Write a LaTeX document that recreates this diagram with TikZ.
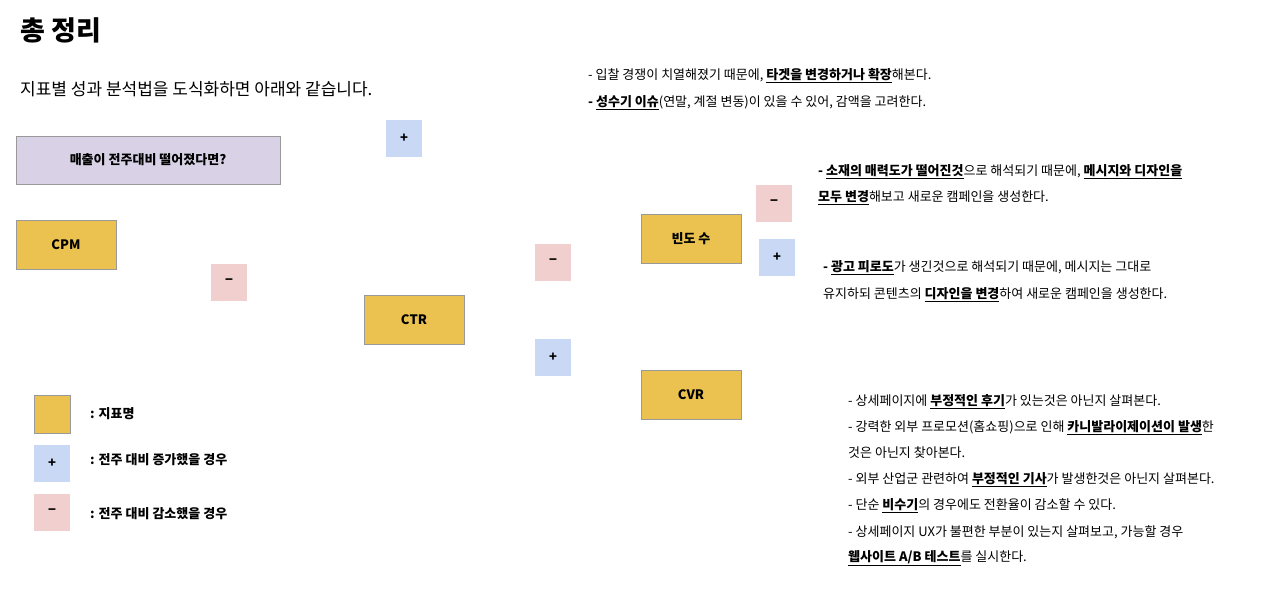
\documentclass[tikz,border=0pt]{standalone}
\usepackage{fontspec}
\setmainfont{Noto Sans CJK KR}
\usetikzlibrary{backgrounds}
\newcommand{\ulb}[1]{\underline{\textbf{#1}}}
\definecolor{kpi}{HTML}{EBC24F}
\definecolor{incr}{HTML}{C9D8F5}
\definecolor{decr}{HTML}{F2CFCF}
\definecolor{q}{HTML}{D9D2E6}
\definecolor{ln}{HTML}{C00000}
\begin{document}
\begin{tikzpicture}[x=1pt,y=-1pt,
 box/.style={draw=black!40,line width=0.8pt,minimum width=100pt,minimum height=49pt,font=\bfseries\fontsize{13}{13}\selectfont,inner sep=0pt},
 kpi/.style={box,fill=kpi},
 sq/.style={fill=#1,minimum width=36pt,minimum height=37pt,inner sep=0pt,font=\bfseries\fontsize{13}{13}\selectfont},
 con/.style={draw=ln,line width=0.9pt},
 txt/.style={anchor=west,font=\fontsize{13}{13}\selectfont,inner sep=0pt}]
\useasboundingbox (0,0) rectangle (1280,598);
\fill[white] (0,0) rectangle (1280,598);
\node[anchor=west,inner sep=0pt,font=\bfseries\fontsize{27}{27}\selectfont] (title) at (20,30) {총 정리};
\node[anchor=west,inner sep=0pt,font=\fontsize{17}{17}\selectfont] (sub) at (20,89) {지표별 성과 분석법을 도식화하면 아래와 같습니다.};
\node[box,fill=q,minimum width=264pt,minimum height=48pt] (q) at (148,160) {매출이 전주대비 떨어졌다면?};
\node[kpi] (cpm) at (66,245) {CPM};
\node[kpi] (ctr) at (414,320) {CTR};
\node[kpi] (freq) at (691,239) {빈도 수};
\node[kpi] (cvr) at (691,395) {CVR};
\node[sq=incr] (p1) at (404,138) {+};
\node[sq=decr] (m1) at (229,282) {\textbf{−}};
\node[sq=decr] (m2) at (553,262) {\textbf{−}};
\node[sq=incr] (p2) at (553,357) {+};
\node[sq=decr] (m3) at (774,203) {\textbf{−}};
\node[sq=incr] (p3) at (777,257) {+};
\coordinate (ea) at (578,93);
\coordinate (eb) at (808,187);
\coordinate (ec) at (812,284);
\coordinate (ed) at (835,484);
\begin{scope}[on background layer]
\draw[con] (cpm.east) to[out=0,in=205] (p1.center) to[out=25,in=180] (ea);
\draw[con] (cpm.east) to[out=0,in=160] (m1.center) to[out=-20,in=180] (ctr.west);
\draw[con] (ctr.east) to[out=0,in=225] (m2.center) to[out=45,in=180] (freq.west);
\draw[con] (ctr.east) to[out=0,in=135] (p2.center) to[out=-45,in=180] (cvr.west);
\draw[con] (freq.east) to[out=0,in=250] (m3.center) to[out=70,in=180] (eb);
\draw[con] (freq.east) to[out=0,in=120] (p3.center) to[out=-60,in=180] (ec);
\draw[con] (cvr.east) to[out=0,in=180] (ed);
\end{scope}
\node[txt] (ta1) at (588,76) {- 입찰 경쟁이 치열해졌기 때문에, \ulb{타겟을 변경하거나 확장}해본다.};
\node[txt] (ta2) at (588,103) {\textbf{-} \ulb{성수기 이슈}(연말, 계절 변동)이 있을 수 있어, 감액을 고려한다.};
\node[txt] (tb1) at (818,172) {\textbf{-} \ulb{소재의 매력도가 떨어진것}으로 해석되기 때문에, \ulb{메시지와 디자인을}};
\node[txt] (tb2) at (818,198) {\ulb{모두 변경}해보고 새로운 캠페인을 생성한다.};
\node[txt] (tc1) at (823,268) {\textbf{-} \ulb{광고 피로도}가 생긴것으로 해석되기 때문에, 메시지는 그대로};
\node[txt] (tc2) at (823,295) {유지하되 콘텐츠의 \ulb{디자인을 변경}하여 새로운 캠페인을 생성한다.};
\node[txt] (td1) at (848,402) {- 상세페이지에 \ulb{부정적인 후기}가 있는것은 아닌지 살펴본다.};
\node[txt] (td2) at (848,428) {- 강력한 외부 프로모션(홈쇼핑)으로 인해 \ulb{카니발라이제이션이 발생}한};
\node[txt] (td3) at (848,453) {것은 아닌지 찾아본다.};
\node[txt] (td4) at (848,480) {- 외부 산업군 관련하여 \ulb{부정적인 기사}가 발생한것은 아닌지 살펴본다.};
\node[txt] (td5) at (848,506) {- 단순 \ulb{비수기}의 경우에도 전환율이 감소할 수 있다.};
\node[txt] (td6) at (848,532) {- 상세페이지 UX가 불편한 부분이 있는지 살펴보고, 가능할 경우};
\node[txt] (td7) at (848,558) {\ulb{웹사이트 A/B 테스트}를 실시한다.};
\node[kpi,minimum width=36pt,minimum height=38pt] (lg1) at (52,414) {};
\node[sq=incr] (lg2) at (52,463) {+};
\node[sq=decr] (lg3) at (52,512) {\textbf{−}};
\node[txt,font=\bfseries\fontsize{13}{13}\selectfont] (lt1) at (90,414) {: 지표명};
\node[txt,font=\bfseries\fontsize{13}{13}\selectfont] (lt2) at (90,460) {: 전주 대비 증가했을 경우};
\node[txt,font=\bfseries\fontsize{13}{13}\selectfont] (lt3) at (90,514) {: 전주 대비 감소했을 경우};
\end{tikzpicture}
\end{document}
